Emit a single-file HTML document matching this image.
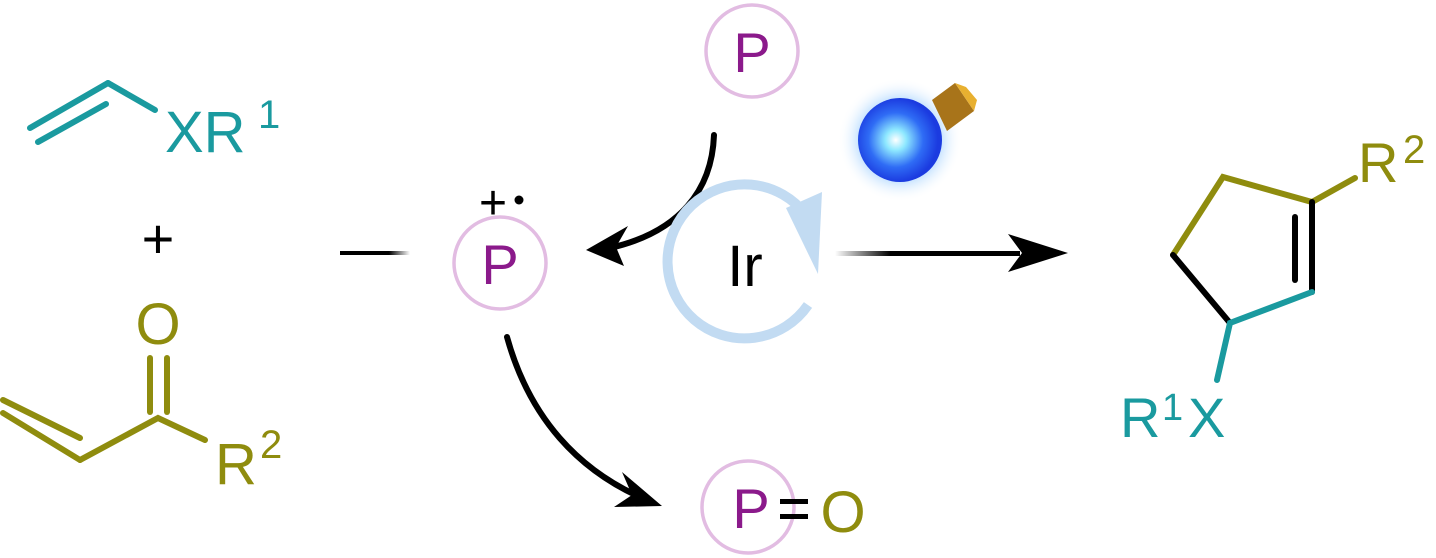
<!DOCTYPE html>
<html><head><meta charset="utf-8"><style>
html,body{margin:0;padding:0;background:#fff;}
svg{display:block;}
text{font-family:"Liberation Sans",sans-serif;}
</style></head><body>
<svg width="1436" height="558" viewBox="0 0 1436 558" xmlns="http://www.w3.org/2000/svg">
<defs>
<radialGradient id="bulb" cx="0.45" cy="0.5" r="0.5">
<stop offset="0" stop-color="#ffffff"/>
<stop offset="0.25" stop-color="#8ee8ff"/>
<stop offset="0.65" stop-color="#2f6cf5"/>
<stop offset="1" stop-color="#1b3be0"/>
</radialGradient>
<radialGradient id="glow" cx="0.5" cy="0.5" r="0.5">
<stop offset="0.6" stop-color="#a8d4ff" stop-opacity="0.9"/>
<stop offset="1" stop-color="#ffffff" stop-opacity="0"/>
</radialGradient>
<linearGradient id="fadeR" x1="0" x2="1" y1="0" y2="0">
<stop offset="0" stop-color="#000" stop-opacity="0"/>
<stop offset="0.3" stop-color="#000" stop-opacity="1"/>
<stop offset="1" stop-color="#000"/>
</linearGradient>
<linearGradient id="fadeL" x1="0" x2="1" y1="0" y2="0">
<stop offset="0" stop-color="#000"/>
<stop offset="0.7" stop-color="#000"/>
<stop offset="1" stop-color="#000" stop-opacity="0"/>
</linearGradient>
</defs>

<g stroke="#1a9a9f" stroke-width="6" fill="none" stroke-linecap="round">
<line x1="30" y1="128" x2="108" y2="83"/>
<line x1="38" y1="142" x2="106" y2="104"/>
<polyline points="108,83 155,110"/>
</g>
<text x="165" y="152" font-size="58" fill="#1a9a9f">XR</text>
<text x="258" y="128" font-size="40" fill="#1a9a9f">1</text>

<text x="158" y="258" font-size="56" fill="#000" text-anchor="middle">+</text>

<text x="158" y="344" font-size="58" fill="#8f8c0e" text-anchor="middle">O</text>
<g stroke="#8f8c0e" stroke-width="6" fill="none" stroke-linecap="round">
<line x1="150" y1="358" x2="150" y2="412"/>
<line x1="167" y1="358" x2="167" y2="412"/>
<line x1="3" y1="413" x2="80" y2="460"/>
<line x1="3" y1="400" x2="80" y2="438"/>
<polyline points="80,460 158,418 205,440"/>
</g>
<text x="215" y="484" font-size="58" fill="#8f8c0e">R</text>
<text x="260" y="458" font-size="40" fill="#8f8c0e">2</text>

<rect x="340" y="251" width="70" height="4" fill="url(#fadeL)"/>

<circle cx="500" cy="263" r="46" fill="none" stroke="#e2bce2" stroke-width="3.5"/>
<text x="500" y="284" font-size="56" fill="#8b1a8b" text-anchor="middle">P</text>
<text x="493" y="219" font-size="48" fill="#000" text-anchor="middle">+</text>
<circle cx="519" cy="200" r="4.5" fill="#000"/>

<circle cx="752" cy="51" r="46" fill="none" stroke="#e2bce2" stroke-width="3.5"/>
<text x="752" y="72" font-size="56" fill="#8b1a8b" text-anchor="middle">P</text>

<path d="M714,135 C712,190 680,232 610,248" stroke="#000" stroke-width="6" fill="none" stroke-linecap="round"/>
<polygon points="586,250 628,226 616,247 624,266" fill="#000"/>

<path d="M808,305 A77,77 0 1,1 806,215" stroke="#c2dbf2" stroke-width="10" fill="none"/>
<polygon points="786,208 822,192 818,274" fill="#c2dbf2"/>
<text x="745" y="286" font-size="58" fill="#000" text-anchor="middle">Ir</text>

<circle cx="900" cy="140" r="62" fill="url(#glow)"/>
<circle cx="900" cy="140" r="42" fill="url(#bulb)"/>
<polygon points="932,100 955,83 974,111 947,131" fill="#a8741a"/>
<polygon points="955,83 966,87 977,100 974,111" fill="#e8b030"/>

<rect x="835" y="251" width="185" height="5" fill="url(#fadeR)"/>
<polygon points="1068,253 1008,234 1022,253 1008,272" fill="#000"/>

<path d="M507,337 C530,420 580,470 640,497" stroke="#000" stroke-width="6" fill="none" stroke-linecap="round"/>
<polygon points="662,506 614,507 632,495 622,472" fill="#000"/>

<circle cx="748" cy="507" r="46" fill="none" stroke="#e2bce2" stroke-width="3.5"/>
<text x="751" y="528" font-size="56" fill="#8b1a8b" text-anchor="middle">P</text>
<rect x="780" y="499" width="28" height="5" fill="#000"/>
<rect x="780" y="514" width="28" height="5" fill="#000"/>
<text x="843" y="532" font-size="58" fill="#8f8c0e" text-anchor="middle">O</text>

<g stroke-width="6" fill="none" stroke-linecap="round">
<polyline points="1173,255 1223,177 1312,202 1355,178" stroke="#8f8c0e"/>
<line x1="1312" y1="202" x2="1312" y2="292" stroke="#000"/>
<line x1="1295" y1="217" x2="1295" y2="280" stroke="#000"/>
<line x1="1173" y1="255" x2="1230" y2="323" stroke="#000"/>
<polyline points="1312,292 1230,323 1217,380" stroke="#1a9a9f"/>
</g>
<text x="1358" y="182" font-size="56" fill="#8f8c0e">R</text>
<text x="1403" y="163" font-size="40" fill="#8f8c0e">2</text>
<text x="1120" y="437" font-size="56" fill="#1a9a9f">R</text>
<text x="1162" y="420" font-size="38" fill="#1a9a9f">1</text>
<text x="1188" y="437" font-size="56" fill="#1a9a9f">X</text>
</svg>
</body></html>
